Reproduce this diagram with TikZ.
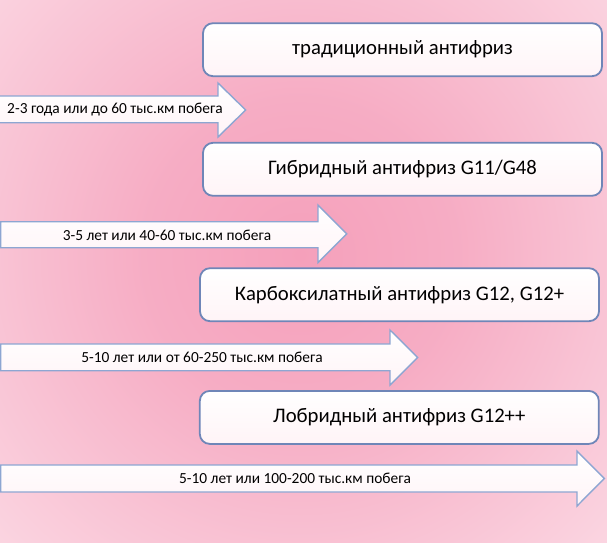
\documentclass[tikz,border=0pt]{standalone}
\usepackage{fontspec}
\setmainfont{Carlito}
\definecolor{bgcenter}{HTML}{F5A0BB}
\definecolor{bgedge}{HTML}{FCE0E9}
\definecolor{boxline}{HTML}{6F86B8}
\definecolor{arrline}{HTML}{8DA6D2}
\definecolor{boxbot}{HTML}{FFF4F7}
\pgfdeclareradialshading{bgshade}{\pgfpoint{0bp}{0bp}}{color(0bp)=(bgcenter); color(7bp)=(bgcenter!80!bgedge); color(22bp)=(bgedge); color(50bp)=(bgedge)}
\tikzset{
  box/.style={draw=boxline, line width=1.8pt, rounded corners=10pt, top color=white, bottom color=boxbot,
    minimum width=399pt, minimum height=53pt, inner sep=0pt, font=\fontsize{20.7}{24}\selectfont, text=black},
  arrtext/.style={inner sep=0pt, font=\fontsize{15.4}{18}\selectfont, text=black},
  arrshape/.style={draw=arrline, line width=1.4pt, line join=miter, top color=white, bottom color=boxbot}
}
% #1 shaft top, #2 shaft bottom, #3 left x, #4 head base x, #5 head top, #6 head bottom, #7 tip x
\newcommand\antiarrow[7]{%
  \path[arrshape] (#3,#1) -- (#4,#1) -- (#4,#5) -- (#7,{(#5+#6)/2}) -- (#4,#6) -- (#4,#2) -- (#3,#2) -- cycle;}
\begin{document}
\begin{tikzpicture}[x=1pt,y=-1pt]
\useasboundingbox (0,0) rectangle (607,542);
\begin{scope}
\clip (0,0) rectangle (607,542);
\shade[shading=bgshade] (300-560,255-560) rectangle (300+560,255+560);
\end{scope}

% boxes
\node[box] (b1) at (402.5,49.7) {традиционный антифриз};
\node[box] (b2) at (402.5,169.3) {Гибридный антифриз G11/G48};
\node[box] (b3) at (399.5,294.7) {Карбоксилатный антифриз G12, G12+};
\node[box] (b4) at (399.3,417.4) {Лобридный антифриз G12++};

% arrows
\antiarrow{96}{122.7}{-3}{218}{83}{137}{245.7}
\antiarrow{221.7}{247.7}{0.7}{318}{205}{262.7}{346.7}
\antiarrow{344}{370.7}{0.7}{390}{330}{385}{417.7}
\antiarrow{465}{492}{0.7}{577}{451}{506}{604.3}

\node[arrtext] (t1) at (115,110) {2-3 года или до 60 тыс.км побега};
\node[arrtext] (t2) at (167,235) {3-5 лет или 40-60 тыс.км побега};
\node[arrtext] (t3) at (202,357.5) {5-10 лет или от 60-250 тыс.км побега};
\node[arrtext] (t4) at (295,478.5) {5-10 лет или 100-200 тыс.км побега};
\end{tikzpicture}
\end{document}
